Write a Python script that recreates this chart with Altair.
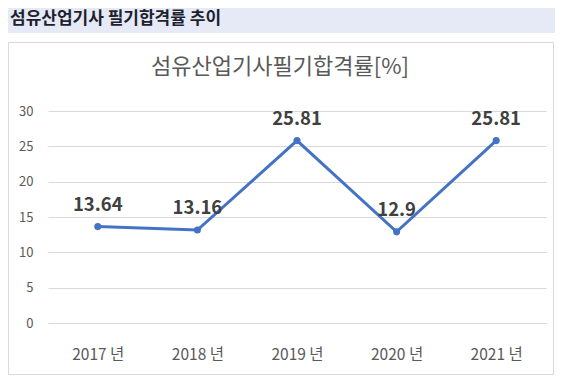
import altair as alt
import pandas as pd

years = ["2017 년", "2018 년", "2019 년", "2020 년", "2021 년"]
rates = [13.64, 13.16, 25.81, 12.9, 25.81]
y_ticks = [0, 5, 10, 15, 20, 25, 30]
header_text = "섬유산업기사 필기합격률 추이"
chart_title = "섬유산업기사필기합격률[%]"

FONT = "Noto Sans CJK KR"
df = pd.DataFrame({"year": years, "rate": rates})
one = pd.DataFrame({"a": [0]})

W, H = 498, 212

header_band = alt.Chart(one).mark_rect(color="#e5eaf6", clip=False).encode(
    x=alt.value(-40), x2=alt.value(507), y=alt.value(-103), y2=alt.value(-78)
)
header_label = alt.Chart(one).mark_text(
    text=header_text, font=FONT, fontSize=17, fontWeight="bold", color="#1f1f2e",
    align="left", baseline="middle", clip=False
).encode(x=alt.value(-38), y=alt.value(-92))
border = alt.Chart(one).mark_rect(
    fill=None, fillOpacity=0, stroke="#d9d9d9", strokeWidth=1, clip=False
).encode(x=alt.value(-39.5), x2=alt.value(505.5), y=alt.value(-68.5), y2=alt.value(263.5))
title = alt.Chart(one).mark_text(
    text=chart_title, font=FONT, fontSize=22, color="#595959",
    align="center", baseline="middle", clip=False
).encode(x=alt.value(232), y=alt.value(-44))

xenc = alt.X("year:N", sort=years, scale=alt.Scale(paddingInner=0, paddingOuter=0.5),
             axis=alt.Axis(title=None, labelAngle=0, ticks=False, domain=False, grid=False,
                           labelFont=FONT, labelFontSize=15.5, labelColor="#595959",
                           labelBaseline="middle", labelPadding=31))
yenc = alt.Y("rate:Q", scale=alt.Scale(domain=[0, 30], nice=False),
             axis=alt.Axis(title=None, values=y_ticks, ticks=False, domain=False,
                           gridColor="#d9d9d9", gridWidth=1, labelOverlap=False,
                           labelFont=FONT, labelFontSize=13, labelColor="#595959",
                           labelPadding=15))

line = alt.Chart(df).mark_line(color="#4472c4", strokeWidth=3).encode(x=xenc, y=yenc)
pts = alt.Chart(df).mark_point(filled=True, color="#4472c4", size=50, opacity=1).encode(
    x=xenc, y=yenc)
labels = alt.Chart(df).mark_text(
    font=FONT, fontSize=18.5, fontWeight="bold", color="#404040",
    baseline="middle", dy=-22
).encode(x=xenc, y=yenc, text="rate:Q")

chart = alt.layer(header_band, border, header_label, title, line, pts, labels).properties(
    width=W, height=H,
    autosize=alt.AutoSizeParams(type="none"),
    padding={"left": 40, "top": 103, "right": 9, "bottom": 52},
).configure_view(stroke=None)

chart.save("out.html", embed_options={"renderer": "svg", "actions": False})
